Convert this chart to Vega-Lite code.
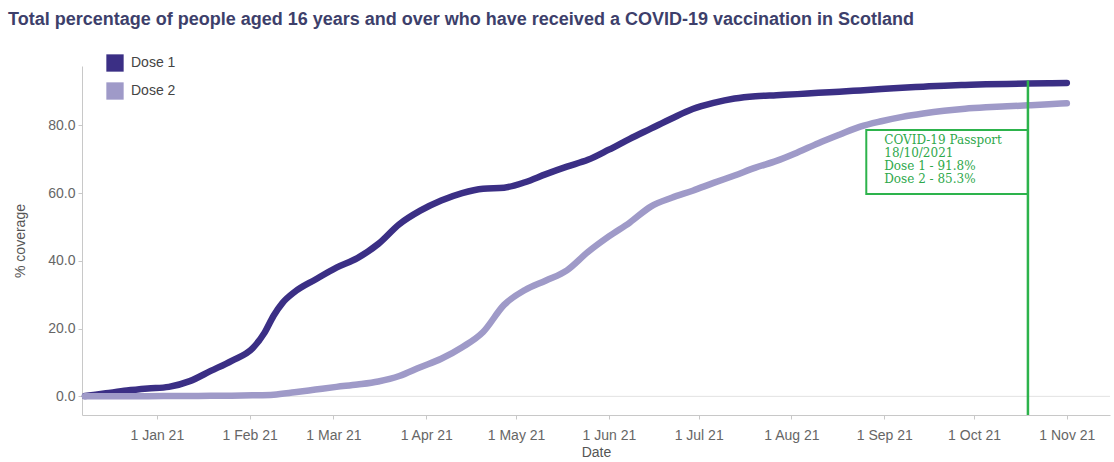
{
  "$schema": "https://vega.github.io/schema/vega-lite/v6.json",
  "width": 1028,
  "height": 349,
  "autosize": {"type": "none"},
  "padding": {"left": 82, "top": 66, "right": 4, "bottom": 47},
  "background": "white",
  "title": {
    "text": "Total percentage of people aged 16 years and over who have received a COVID-19 vaccination in Scotland",
    "anchor": "start",
    "frame": "group",
    "dx": -74,
    "offset": 25,
    "font": "Liberation Sans",
    "fontSize": 18,
    "fontWeight": "bold",
    "color": "#3d3f6b"
  },
  "config": {
    "view": {"stroke": null},
    "axis": {"labelFont": "Liberation Sans", "titleFont": "Liberation Sans", "labelFontSize": 14, "titleFontSize": 14, "labelColor": "#666666", "titleColor": "#555555", "titleFontWeight": "normal", "domainColor": "#c8c8c8", "tickColor": "#c8c8c8", "tickSize": 4, "grid": false}
  },
  "datasets": {
    "vax": [
      {"date": "2020-12-08", "dose": "Dose 1", "pct": 0.1},
      {"date": "2020-12-15", "dose": "Dose 1", "pct": 0.9},
      {"date": "2020-12-22", "dose": "Dose 1", "pct": 1.7},
      {"date": "2020-12-29", "dose": "Dose 1", "pct": 2.3},
      {"date": "2021-01-05", "dose": "Dose 1", "pct": 2.8},
      {"date": "2021-01-12", "dose": "Dose 1", "pct": 4.5},
      {"date": "2021-01-19", "dose": "Dose 1", "pct": 7.5},
      {"date": "2021-01-26", "dose": "Dose 1", "pct": 10.5},
      {"date": "2021-02-02", "dose": "Dose 1", "pct": 14.2},
      {"date": "2021-02-06", "dose": "Dose 1", "pct": 18.8},
      {"date": "2021-02-09", "dose": "Dose 1", "pct": 23.8},
      {"date": "2021-02-12", "dose": "Dose 1", "pct": 27.6},
      {"date": "2021-02-16", "dose": "Dose 1", "pct": 30.8},
      {"date": "2021-02-23", "dose": "Dose 1", "pct": 34.5},
      {"date": "2021-03-02", "dose": "Dose 1", "pct": 38.0},
      {"date": "2021-03-09", "dose": "Dose 1", "pct": 40.8},
      {"date": "2021-03-16", "dose": "Dose 1", "pct": 45.0},
      {"date": "2021-03-23", "dose": "Dose 1", "pct": 50.8},
      {"date": "2021-03-30", "dose": "Dose 1", "pct": 54.8},
      {"date": "2021-04-06", "dose": "Dose 1", "pct": 57.8},
      {"date": "2021-04-13", "dose": "Dose 1", "pct": 60.0},
      {"date": "2021-04-20", "dose": "Dose 1", "pct": 61.3},
      {"date": "2021-04-27", "dose": "Dose 1", "pct": 61.6},
      {"date": "2021-05-04", "dose": "Dose 1", "pct": 63.2},
      {"date": "2021-05-11", "dose": "Dose 1", "pct": 65.6},
      {"date": "2021-05-18", "dose": "Dose 1", "pct": 67.8},
      {"date": "2021-05-25", "dose": "Dose 1", "pct": 69.8},
      {"date": "2021-06-01", "dose": "Dose 1", "pct": 72.8},
      {"date": "2021-06-08", "dose": "Dose 1", "pct": 76.0},
      {"date": "2021-06-15", "dose": "Dose 1", "pct": 79.0},
      {"date": "2021-06-22", "dose": "Dose 1", "pct": 82.0},
      {"date": "2021-06-29", "dose": "Dose 1", "pct": 84.8},
      {"date": "2021-07-06", "dose": "Dose 1", "pct": 86.6},
      {"date": "2021-07-13", "dose": "Dose 1", "pct": 87.9},
      {"date": "2021-07-20", "dose": "Dose 1", "pct": 88.6},
      {"date": "2021-07-27", "dose": "Dose 1", "pct": 88.9},
      {"date": "2021-08-03", "dose": "Dose 1", "pct": 89.2},
      {"date": "2021-08-10", "dose": "Dose 1", "pct": 89.6},
      {"date": "2021-08-17", "dose": "Dose 1", "pct": 89.9},
      {"date": "2021-08-24", "dose": "Dose 1", "pct": 90.3},
      {"date": "2021-08-31", "dose": "Dose 1", "pct": 90.7},
      {"date": "2021-09-07", "dose": "Dose 1", "pct": 91.1},
      {"date": "2021-09-14", "dose": "Dose 1", "pct": 91.4},
      {"date": "2021-09-21", "dose": "Dose 1", "pct": 91.7},
      {"date": "2021-09-28", "dose": "Dose 1", "pct": 91.9},
      {"date": "2021-10-05", "dose": "Dose 1", "pct": 92.1},
      {"date": "2021-10-12", "dose": "Dose 1", "pct": 92.2},
      {"date": "2021-10-19", "dose": "Dose 1", "pct": 92.3},
      {"date": "2021-10-26", "dose": "Dose 1", "pct": 92.4},
      {"date": "2021-11-01", "dose": "Dose 1", "pct": 92.5},
      {"date": "2020-12-08", "dose": "Dose 2", "pct": 0.0},
      {"date": "2020-12-15", "dose": "Dose 2", "pct": 0.0},
      {"date": "2020-12-22", "dose": "Dose 2", "pct": 0.0},
      {"date": "2020-12-29", "dose": "Dose 2", "pct": 0.05},
      {"date": "2021-01-05", "dose": "Dose 2", "pct": 0.1},
      {"date": "2021-01-12", "dose": "Dose 2", "pct": 0.1},
      {"date": "2021-01-19", "dose": "Dose 2", "pct": 0.15},
      {"date": "2021-01-26", "dose": "Dose 2", "pct": 0.2},
      {"date": "2021-02-02", "dose": "Dose 2", "pct": 0.3},
      {"date": "2021-02-09", "dose": "Dose 2", "pct": 0.5},
      {"date": "2021-02-16", "dose": "Dose 2", "pct": 1.2},
      {"date": "2021-02-23", "dose": "Dose 2", "pct": 2.0},
      {"date": "2021-03-02", "dose": "Dose 2", "pct": 2.8},
      {"date": "2021-03-09", "dose": "Dose 2", "pct": 3.5},
      {"date": "2021-03-16", "dose": "Dose 2", "pct": 4.4},
      {"date": "2021-03-23", "dose": "Dose 2", "pct": 6.0},
      {"date": "2021-03-30", "dose": "Dose 2", "pct": 8.6},
      {"date": "2021-04-06", "dose": "Dose 2", "pct": 11.1},
      {"date": "2021-04-13", "dose": "Dose 2", "pct": 14.5},
      {"date": "2021-04-20", "dose": "Dose 2", "pct": 19.0},
      {"date": "2021-04-27", "dose": "Dose 2", "pct": 27.0},
      {"date": "2021-05-04", "dose": "Dose 2", "pct": 31.4},
      {"date": "2021-05-11", "dose": "Dose 2", "pct": 34.2},
      {"date": "2021-05-18", "dose": "Dose 2", "pct": 37.2},
      {"date": "2021-05-25", "dose": "Dose 2", "pct": 42.6},
      {"date": "2021-06-01", "dose": "Dose 2", "pct": 47.2},
      {"date": "2021-06-08", "dose": "Dose 2", "pct": 51.3},
      {"date": "2021-06-15", "dose": "Dose 2", "pct": 56.0},
      {"date": "2021-06-22", "dose": "Dose 2", "pct": 58.6},
      {"date": "2021-06-29", "dose": "Dose 2", "pct": 60.7},
      {"date": "2021-07-06", "dose": "Dose 2", "pct": 63.0},
      {"date": "2021-07-13", "dose": "Dose 2", "pct": 65.2},
      {"date": "2021-07-20", "dose": "Dose 2", "pct": 67.5},
      {"date": "2021-07-27", "dose": "Dose 2", "pct": 69.5},
      {"date": "2021-08-03", "dose": "Dose 2", "pct": 72.0},
      {"date": "2021-08-10", "dose": "Dose 2", "pct": 74.7},
      {"date": "2021-08-17", "dose": "Dose 2", "pct": 77.2},
      {"date": "2021-08-24", "dose": "Dose 2", "pct": 79.6},
      {"date": "2021-08-31", "dose": "Dose 2", "pct": 81.2},
      {"date": "2021-09-07", "dose": "Dose 2", "pct": 82.5},
      {"date": "2021-09-14", "dose": "Dose 2", "pct": 83.5},
      {"date": "2021-09-21", "dose": "Dose 2", "pct": 84.3},
      {"date": "2021-09-28", "dose": "Dose 2", "pct": 84.9},
      {"date": "2021-10-05", "dose": "Dose 2", "pct": 85.3},
      {"date": "2021-10-12", "dose": "Dose 2", "pct": 85.6},
      {"date": "2021-10-19", "dose": "Dose 2", "pct": 85.9},
      {"date": "2021-10-26", "dose": "Dose 2", "pct": 86.2},
      {"date": "2021-11-01", "dose": "Dose 2", "pct": 86.5}
    ],
    "note": [
      {"zero": 0, "ruleDate": "2021-10-19", "ruleTop": 93.2, "ruleBottom": -5.5, "boxStart": "2021-08-26", "boxTop": 78.6, "boxBottom": 59.7, "textDate": "2021-09-01", "textTop": 77.1, "label": "COVID-19 Passport\n18/10/2021\nDose 1 - 91.8%\nDose 2 - 85.3%"}
    ]
  },
  "layer": [
    {
      "data": {"name": "note"},
      "mark": {"type": "rule", "color": "#e2e2e2", "strokeWidth": 1},
      "encoding": {"y": {"field": "zero", "type": "quantitative"}}
    },
    {
      "data": {"name": "vax"},
      "mark": {"type": "line", "strokeWidth": 6.5, "interpolate": "monotone", "strokeCap": "round", "strokeJoin": "round"},
      "encoding": {
        "x": {
          "field": "date", "type": "temporal", "title": "Date",
          "scale": {"type": "utc", "domain": [{"year": 2020, "month": 12, "date": 7, "utc": true}, {"year": 2021, "month": 11, "date": 15, "hours": 10, "utc": true}], "nice": false},
          "axis": {"format": "%-d %b %y", "tickCount": {"interval": "month", "step": 1}, "labelPadding": 9, "titlePadding": 3, "labelFlush": false}
        },
        "y": {
          "field": "pct", "type": "quantitative", "title": "% coverage",
          "scale": {"domain": [-5.5, 97.5], "nice": false, "zero": false},
          "axis": {"values": [0, 20, 40, 60, 80], "format": ".1f", "labelPadding": 3, "titlePadding": 20}
        },
        "color": {
          "field": "dose", "type": "nominal",
          "scale": {"domain": ["Dose 1", "Dose 2"], "range": ["#3b2f85", "#9f9ac8"]},
          "legend": {
            "title": null, "orient": "none", "legendX": 24, "legendY": -12,
            "symbolType": "square", "symbolSize": 300, "symbolStrokeWidth": 0,
            "labelFont": "Liberation Sans", "labelFontSize": 14, "labelColor": "#444444", "labelOffset": 7,
            "rowPadding": 10, "padding": 0,
            "encode": {"symbols": {"update": {"fill": {"scale": "color", "field": "value"}, "strokeWidth": {"value": 0}, "opacity": {"value": 1}}}}
          }
        }
      }
    },
    {
      "data": {"name": "note"},
      "mark": {"type": "rect", "fill": "white", "stroke": "#2db34c", "strokeWidth": 2},
      "encoding": {
        "x": {"field": "boxStart", "type": "temporal"},
        "x2": {"field": "ruleDate"},
        "y": {"field": "boxTop", "type": "quantitative"},
        "y2": {"field": "boxBottom"}
      }
    },
    {
      "data": {"name": "note"},
      "mark": {"type": "rule", "color": "#2db34c", "strokeWidth": 2.5},
      "encoding": {
        "x": {"field": "ruleDate", "type": "temporal"},
        "y": {"field": "ruleTop", "type": "quantitative"},
        "y2": {"field": "ruleBottom"}
      }
    },
    {
      "data": {"name": "note"},
      "mark": {"type": "text", "align": "left", "baseline": "top", "lineBreak": "\n", "font": "DejaVu Serif", "fontSize": 12, "lineHeight": 13, "color": "#2ea84b"},
      "encoding": {
        "x": {"field": "textDate", "type": "temporal"},
        "y": {"field": "textTop", "type": "quantitative"},
        "text": {"field": "label"}
      }
    }
  ]
}
